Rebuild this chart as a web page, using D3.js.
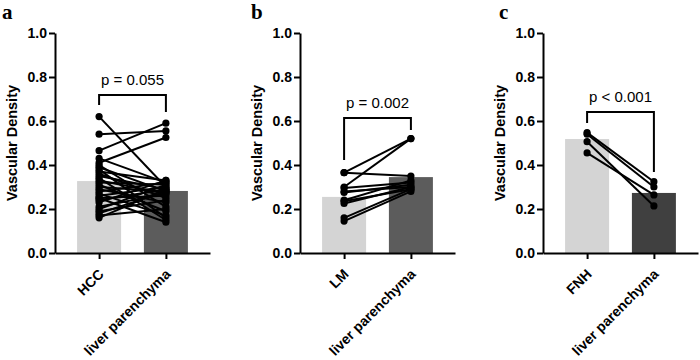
<!DOCTYPE html>
<html>
<head>
<meta charset="utf-8">
<script src="https://cdn.jsdelivr.net/npm/d3@7"></script>
<style>
  body { margin: 0; background: #fff; }
  text { font-family: "Liberation Sans", Arial, sans-serif; }
</style>
</head>
<body>
<div id="chart"></div>
<script>
// panel letters and categories
var letters = ["a", "b", "c"];
var catsA = ["HCC", "liver parenchyma"];
var catsB = ["LM", "liver parenchyma"];
var catsC = ["FNH", "liver parenchyma"];

// bar heights (group means)
var meanA = [0.327, 0.282];
var meanB = [0.255, 0.345];
var meanC = [0.518, 0.273];

// paired measurements, tumour -> liver parenchyma
var tumA = [0.62, 0.54, 0.465, 0.43, 0.41, 0.40, 0.39, 0.38, 0.37, 0.36, 0.35, 0.34, 0.33, 0.32, 0.31,
            0.30, 0.29, 0.28, 0.27, 0.26, 0.25, 0.25, 0.24, 0.23, 0.21, 0.20, 0.19, 0.18, 0.17, 0.16];
var livA = [0.30, 0.555, 0.59, 0.32, 0.525, 0.21, 0.28, 0.16, 0.33, 0.25, 0.29, 0.15, 0.27, 0.31, 0.19,
            0.28, 0.23, 0.32, 0.17, 0.30, 0.26, 0.14, 0.29, 0.33, 0.27, 0.31, 0.24, 0.28, 0.20, 0.29];
var tumB = [0.365, 0.365, 0.30, 0.295, 0.28, 0.275, 0.24, 0.235, 0.225, 0.16, 0.145];
var livB = [0.35, 0.52, 0.52, 0.32, 0.30, 0.31, 0.33, 0.29, 0.30, 0.29, 0.28];
var tumC = [0.547, 0.54, 0.506, 0.455];
var livC = [0.324, 0.30, 0.214, 0.264];

// significance brackets: [top, left leg end, right leg end]
var bracketA = [0.718, 0.673, 0.641];
var bracketB = [0.614, 0.423, 0.559];
var bracketC = [0.641, 0.591, 0.368];
var pLabels = ["p = 0.055", "p = 0.002", "p < 0.001"];

var yTicks = [0, 0.2, 0.4, 0.6, 0.8, 1.0];

var panels = [
  {letter: letters[0], cats: catsA, mean: meanA, tum: tumA, liv: livA, bracket: bracketA, p: pLabels[0], dark: "#5c5c5c", left: 55, lx: 2},
  {letter: letters[1], cats: catsB, mean: meanB, tum: tumB, liv: livB, bracket: bracketB, p: pLabels[1], dark: "#5c5c5c", left: 300, lx: 251},
  {letter: letters[2], cats: catsC, mean: meanC, tum: tumC, liv: livC, bracket: bracketC, p: pLabels[2], dark: "#404040", left: 543, lx: 499}
];

var width = 700, height = 360;
var axisW = 155, barW = 44;

var svg = d3.select("#chart").append("svg")
  .attr("width", width)
  .attr("height", height);

var y = d3.scaleLinear().domain([0, 1]).range([253, 33]);

panels.forEach(function(p) {
  var x = d3.scalePoint().domain(p.cats).range([p.left, p.left + axisW]).padding(0.66);
  var g = svg.append("g");

  // panel letter
  g.append("text")
    .attr("x", p.lx)
    .attr("y", 19)
    .style("font-family", "'Liberation Serif', 'Times New Roman', serif")
    .style("font-weight", "bold")
    .style("font-size", "21px")
    .text(p.letter);

  // bars
  g.selectAll(".bar")
    .data(p.mean)
    .enter().append("rect")
    .attr("x", function(d, i) { return x(p.cats[i]) - barW / 2; })
    .attr("width", barW)
    .attr("y", function(d) { return y(d); })
    .attr("height", function(d) { return y(0) - y(d); })
    .attr("fill", function(d, i) { return i === 0 ? "#d4d4d4" : p.dark; });

  // paired lines
  var pairs = p.tum.map(function(d, i) { return [d, p.liv[i]]; });
  g.selectAll(".pair")
    .data(pairs)
    .enter().append("line")
    .attr("x1", x(p.cats[0]))
    .attr("x2", x(p.cats[1]))
    .attr("y1", function(d) { return y(d[0]); })
    .attr("y2", function(d) { return y(d[1]); })
    .attr("stroke", "#000")
    .attr("stroke-width", 2);

  // dots
  [p.tum, p.liv].forEach(function(vals, k) {
    g.selectAll(".dot" + k)
      .data(vals)
      .enter().append("circle")
      .attr("cx", x(p.cats[k]))
      .attr("cy", function(d) { return y(d); })
      .attr("r", 3.6)
      .attr("fill", "#000");
  });

  // y axis
  var ya = g.append("g")
    .attr("transform", "translate(" + p.left + ",0)")
    .call(d3.axisLeft(y).tickValues(yTicks).tickFormat(d3.format(".1f")).tickSize(6).tickSizeOuter(0).tickPadding(2));
  ya.selectAll("path, line").attr("stroke", "#000").attr("stroke-width", 2);
  ya.selectAll("text")
    .attr("fill", "#000")
    .style("font-size", "14px")
    .style("font-weight", "bold")
    .style("font-family", "'Liberation Sans', Arial, sans-serif");

  // x axis
  var xa = g.append("g")
    .attr("transform", "translate(0,253)")
    .call(d3.axisBottom(x).tickSize(6).tickSizeOuter(0));
  xa.selectAll("path, line").attr("stroke", "#000").attr("stroke-width", 2);
  xa.selectAll("text")
    .attr("fill", "#000")
    .attr("y", 0)
    .attr("dy", 0)
    .attr("transform", "translate(5,22) rotate(-45)")
    .style("text-anchor", "end")
    .style("font-size", "14px")
    .style("font-weight", "bold")
    .style("font-family", "'Liberation Sans', Arial, sans-serif");

  // y label
  g.append("text")
    .attr("transform", "translate(" + (p.left - 38) + "," + y(0.5) + ") rotate(-90)")
    .style("text-anchor", "middle")
    .style("font-size", "14.5px")
    .style("font-weight", "bold")
    .text("Vascular Density");

  // significance bracket
  var x1 = x(p.cats[0]), x2 = x(p.cats[1]);
  g.append("path")
    .attr("d", "M" + x1 + "," + y(p.bracket[1]) + "V" + y(p.bracket[0]) + "H" + x2 + "V" + y(p.bracket[2]))
    .attr("fill", "none")
    .attr("stroke", "#000")
    .attr("stroke-width", 2);

  g.append("text")
    .attr("x", (x1 + x2) / 2)
    .attr("y", y(p.bracket[0]) - 10)
    .style("text-anchor", "middle")
    .style("font-size", "15px")
    .text(p.p);
});
</script>
</body>
</html>
